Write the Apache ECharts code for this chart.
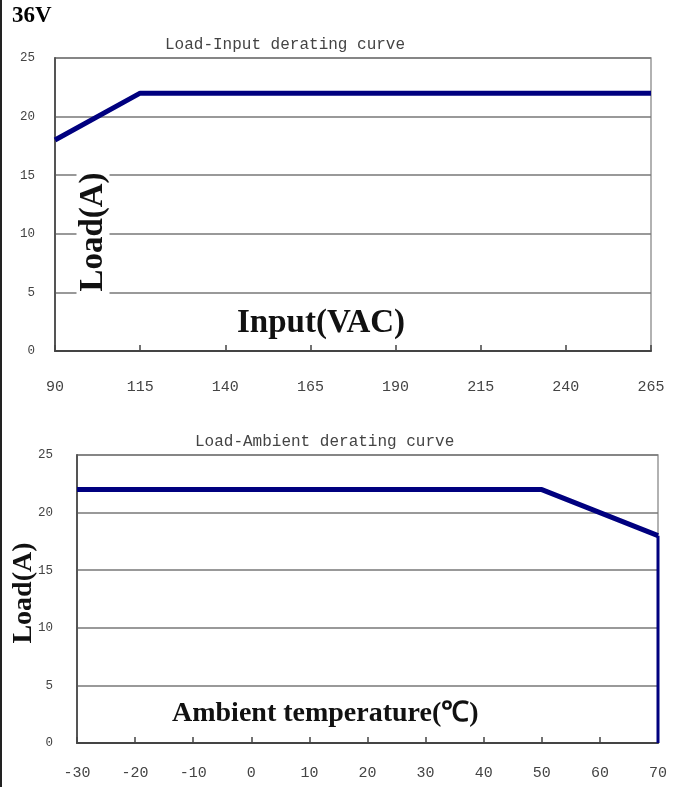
<!DOCTYPE html>
<html>
<head>
<meta charset="utf-8">
<script src="https://cdn.jsdelivr.net/npm/echarts@6/dist/echarts.min.js"></script>
<style>
html,body{margin:0;padding:0;background:#fff;}
#chart{width:683px;height:787px;}
</style>
</head>
<body>
<div id="chart"></div>
<script>
// Top chart: Load vs Input
const inputCategories = ['90','115','140','165','190','215','240','265'];
const inputLoad = [18, 22, 22, 22, 22, 22, 22, 22];
// Bottom chart: Load vs Ambient temperature
const ambientLoad = [[-30, 22], [50, 22], [70, 18]];
const ambientDrop = [[70, 18], [70, 0]];
const yTicks = [0, 5, 10, 15, 20, 25];

const chart = echarts.init(document.getElementById('chart'));
const xTickFont = {fontFamily: 'Liberation Mono', fontSize: 15, color: '#444'};
const yTickFont = {fontFamily: 'Liberation Mono', fontSize: 12.5, color: '#444'};

chart.setOption({
  backgroundColor: '#fff',
  animation: false,
  grid: [
    {left: 55, top: 58, width: 596, height: 293, show: true, borderColor: '#999', borderWidth: 1.5},
    {left: 77, top: 455, width: 581, height: 288, show: true, borderColor: '#999', borderWidth: 1.5}
  ],
  xAxis: [
    {gridIndex: 0, type: 'category', data: inputCategories, boundaryGap: false,
     axisLine: {lineStyle: {color: '#444', width: 2}},
     axisTick: {inside: true, length: 6, alignWithLabel: true, lineStyle: {color: '#444', width: 1.5}},
     axisLabel: Object.assign({margin: 29}, xTickFont),
     splitLine: {show: false}},
    {gridIndex: 1, type: 'value', min: -30, max: 70, interval: 10,
     axisLine: {onZero: false, lineStyle: {color: '#444', width: 2}},
     axisTick: {inside: true, length: 6, lineStyle: {color: '#444', width: 1.5}},
     axisLabel: Object.assign({margin: 23}, xTickFont),
     splitLine: {show: false}}
  ],
  yAxis: [
    {gridIndex: 0, type: 'value', min: yTicks[0], max: yTicks[yTicks.length-1], interval: 5,
     axisLine: {show: true, onZero: false, lineStyle: {color: '#555', width: 2}},
     axisTick: {show: false},
     axisLabel: Object.assign({margin: 20}, yTickFont),
     splitLine: {show: true, lineStyle: {color: '#777', width: 1.5}}},
    {gridIndex: 1, type: 'value', min: yTicks[0], max: yTicks[yTicks.length-1], interval: 5,
     axisLine: {show: true, onZero: false, lineStyle: {color: '#555', width: 2}},
     axisTick: {show: false},
     axisLabel: Object.assign({margin: 24}, yTickFont),
     splitLine: {show: true, lineStyle: {color: '#777', width: 1.5}}}
  ],
  series: [
    {type: 'line', xAxisIndex: 0, yAxisIndex: 0, data: inputLoad, symbol: 'none',
     lineStyle: {color: '#00007f', width: 5}, z: 5},
    {type: 'line', xAxisIndex: 1, yAxisIndex: 1, data: ambientLoad, symbol: 'none',
     lineStyle: {color: '#00007f', width: 5}, z: 5},
    {type: 'line', xAxisIndex: 1, yAxisIndex: 1, data: ambientDrop, symbol: 'none',
     lineStyle: {color: '#00007f', width: 3}, z: 5}
  ],
  graphic: [
    {type: 'line', shape: {x1: 1, y1: 0, x2: 1, y2: 787}, style: {stroke: '#222', lineWidth: 2}, z: 100},
    {type: 'text', left: 12, top: 5, z: 100,
     style: {text: '36V', font: 'bold 23px "Liberation Serif"', fill: '#000'}},
    {type: 'text', left: 165, top: 37, z: 100,
     style: {text: 'Load-Input derating curve', font: '16px "Liberation Mono"', fill: '#444'}},
    {type: 'text', x: 93, y: 232, rotation: Math.PI/2, z: 100,
     style: {text: 'Load(A)', font: 'bold 33px "Liberation Serif"', fill: '#111',
             align: 'center', verticalAlign: 'middle', backgroundColor: '#fff', padding: [0, 6]}},
    {type: 'text', left: 237, top: 307, z: 100,
     style: {text: 'Input(VAC)', font: 'bold 33px "Liberation Serif"', fill: '#111'}},
    {type: 'text', left: 195, top: 434, z: 100,
     style: {text: 'Load-Ambient derating curve', font: '16px "Liberation Mono"', fill: '#444'}},
    {type: 'text', x: 24, y: 593, rotation: Math.PI/2, z: 100,
     style: {text: 'Load(A)', font: 'bold 28px "Liberation Serif"', fill: '#111',
             align: 'center', verticalAlign: 'middle'}},
    {type: 'text', left: 172, top: 700, z: 100,
     style: {text: 'Ambient temperature(℃)', font: 'bold 28px "Liberation Serif"', fill: '#111'}}
  ]
});
</script>
</body>
</html>
